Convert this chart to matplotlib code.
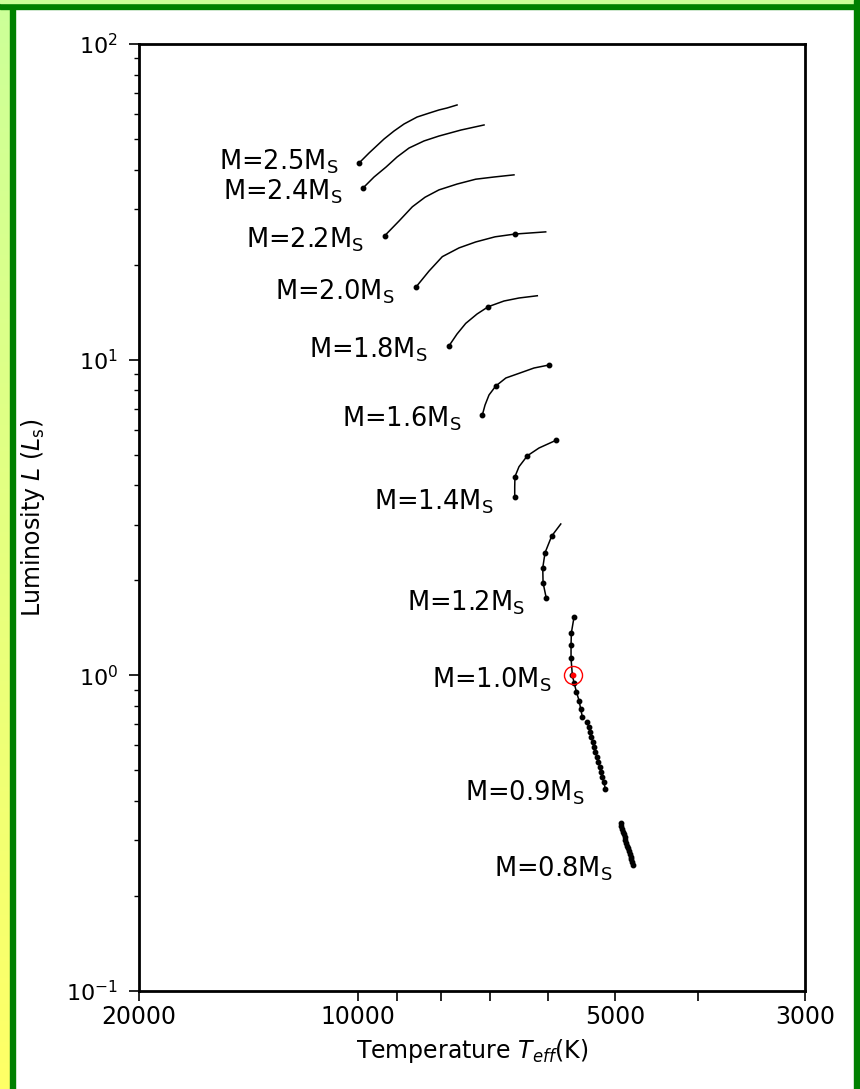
import numpy as np
import matplotlib
matplotlib.use("Agg")
import matplotlib.pyplot as plt
from matplotlib.patches import Rectangle

# evolutionary tracks: Teff (K), L (Lsun)
masses = ["2.5", "2.4", "2.2", "2.0", "1.8", "1.6", "1.4", "1.2", "1.0", "0.9", "0.8"]

t_25 = [9973, 9708, 9324, 9077, 8834, 8530, 8259, 8042, 7868, 7659]
l_25 = [41.97, 45.15, 50.0, 53.0, 55.8, 58.7, 60.4, 61.8, 62.7, 64.1]
t_24 = [9866, 9578, 9274, 9003, 8717, 8372, 8042, 7577, 7122]
l_24 = [34.98, 37.9, 40.75, 43.85, 46.82, 49.3, 51.1, 53.4, 55.4]
t_22 = [9306, 8954, 8639, 8349, 8042, 7659, 7283, 6934, 6570]
l_22 = [24.70, 27.5, 30.5, 32.7, 34.5, 36.0, 37.3, 37.9, 38.5]
t_20 = [8560, 8259, 7969, 7618, 7283, 6914, 6553, 6032]
l_20 = [16.95, 19.09, 21.2, 22.6, 23.6, 24.5, 25.0, 25.4]
t_18 = [7825, 7659, 7482, 7258, 7040, 6749, 6482, 6170]
l_18 = [11.07, 12.06, 13.03, 13.95, 14.72, 15.34, 15.68, 15.94]
t_16 = [7155, 7103, 7027, 6901, 6715, 6482, 6225, 5977]
l_16 = [6.68, 7.18, 7.73, 8.25, 8.75, 9.05, 9.41, 9.62]
t_14 = [6557, 6557, 6553, 6482, 6338, 6142, 5870]
l_14 = [3.66, 3.95, 4.26, 4.58, 4.96, 5.25, 5.55]
t_12 = [6022, 6075, 6080, 6043, 5935, 5792]
l_12 = [1.753, 1.965, 2.19, 2.445, 2.763, 3.016]
t_10 = [5588, 5629, 5634, 5634, 5614, 5588, 5553, 5513, 5488, 5465]
l_10 = [1.533, 1.364, 1.247, 1.132, 1.0, 0.947, 0.887, 0.831, 0.780, 0.739]
t_09 = [5390, 5375, 5350, 5335, 5315, 5295, 5275, 5255, 5235, 5215, 5200, 5180, 5160, 5135]
l_09 = [0.713, 0.688, 0.663, 0.640, 0.616, 0.594, 0.573, 0.552, 0.532, 0.513, 0.495, 0.477, 0.460, 0.436]
t_08 = [4930, 4920, 4908, 4898, 4887, 4876, 4866, 4855, 4844, 4833, 4822, 4811, 4799, 4788, 4776, 4765]
l_08 = [0.341, 0.334, 0.327, 0.320, 0.314, 0.307, 0.301, 0.295, 0.289, 0.283, 0.277, 0.271, 0.266, 0.261, 0.256, 0.251]

temps = [t_25, t_24, t_22, t_20, t_18, t_16, t_14, t_12, t_10, t_09, t_08]
lums = [l_25, l_24, l_22, l_20, l_18, l_16, l_14, l_12, l_10, l_09, l_08]

# which points carry a dot, and which point the label hangs on
dots = [[0], [0], [0], [0, 6], [0, 4], [0, 3, 7], [0, 2, 4, 6], [0, 1, 2, 3, 4],
        list(range(10)), list(range(14)), list(range(16))]
label_at = [0, 0, 0, 0, 0, 0, 0, 0, 4, -1, -1]

sun_t, sun_l = 5600, 1.0

x_ticks = [18040, 10000, 5000, 3000]
x_ticklabels = ["20000", "10000", "5000", "3000"]
x_minor = [9000, 8000, 7000, 6000, 4000]

W, H = 860, 1089
fig = plt.figure(figsize=(W / 100, H / 100), dpi=100)
fig.patch.set_facecolor("white")

# frame decoration: gradient strip on the left, dark green rules
grad = fig.add_axes([0, 0, 10 / W, 1])
grad.imshow(np.linspace(0, 1, 256)[:, None], aspect="auto",
            cmap=matplotlib.colors.LinearSegmentedColormap.from_list("g", ["#ccff99", "#ffff66"]),
            extent=[0, 1, 0, 1], origin="upper")
grad.axis("off")
fig.patches.append(Rectangle((10 / W, 0), 5 / W, 1, transform=fig.transFigure, color="#008000", zorder=5))
fig.patches.append(Rectangle((0, 1 - 9 / H), 1, 6 / H, transform=fig.transFigure, color="#008000", zorder=5))
fig.patches.append(Rectangle((0, 1 - 3 / H), 1, 3 / H, transform=fig.transFigure, color="#ccff99", zorder=5))
fig.patches.append(Rectangle((854 / W, 0), 6 / W, 1, transform=fig.transFigure, color="#008000", zorder=5))

ax = fig.add_axes([139 / W, 1 - 991 / H, 666 / W, 947 / H])
ax.set_xscale("log")
ax.set_yscale("log")
ax.set_xlim(x_ticks[0], x_ticks[-1])
ax.set_ylim(0.1, 100)

for i, m in enumerate(masses):
    ax.plot(temps[i], lums[i], color="black", lw=1.1, marker="o", ms=3.2,
            markevery=dots[i], zorder=3)
    dy = -5.0 if m == "2.5" else -8.5
    j = label_at[i]
    ax.annotate("M=" + m + r"M$_\mathregular{S}$", (temps[i][j], lums[i][j]),
                xytext=(-15, dy), textcoords="offset points",
                ha="right", va="baseline", fontsize=18.5)

ax.plot([sun_t], [sun_l], marker="o", ms=13, mfc="none", mec="red", mew=1.0, zorder=4)
ax.plot([sun_t], [sun_l], marker="o", ms=3.2, color="red", zorder=5)

ax.xaxis.set_major_locator(matplotlib.ticker.FixedLocator(x_ticks))
ax.xaxis.set_major_formatter(matplotlib.ticker.FixedFormatter(x_ticklabels))
ax.xaxis.set_minor_locator(matplotlib.ticker.FixedLocator(x_minor))
ax.xaxis.set_minor_formatter(matplotlib.ticker.NullFormatter())
ax.set_yticks([0.1, 1, 10, 100])
ax.set_yticklabels([r"$\mathregular{10^{-1}}$", r"$\mathregular{10^{0}}$",
                    r"$\mathregular{10^{1}}$", r"$\mathregular{10^{2}}$"])

ax.tick_params(axis="x", which="both", direction="out", length=7, width=1.2,
               labelsize=17, pad=3, top=False)
ax.tick_params(axis="y", which="major", direction="out", length=7, width=1.2,
               labelsize=16, pad=8, right=False)
ax.tick_params(axis="y", which="minor", direction="out", length=3.5, width=1.0, right=False)

for s in ax.spines.values():
    s.set_linewidth(2.0)

ax.set_xlabel(r"Temperature $\mathit{T}_{\mathit{eff}}$(K)", fontsize=17, labelpad=6)
ax.set_ylabel(r"Luminosity $\mathit{L}$ ($\mathit{L}_\mathregular{s}$)", fontsize=17, labelpad=14)

fig.savefig("out.png", dpi=100)
